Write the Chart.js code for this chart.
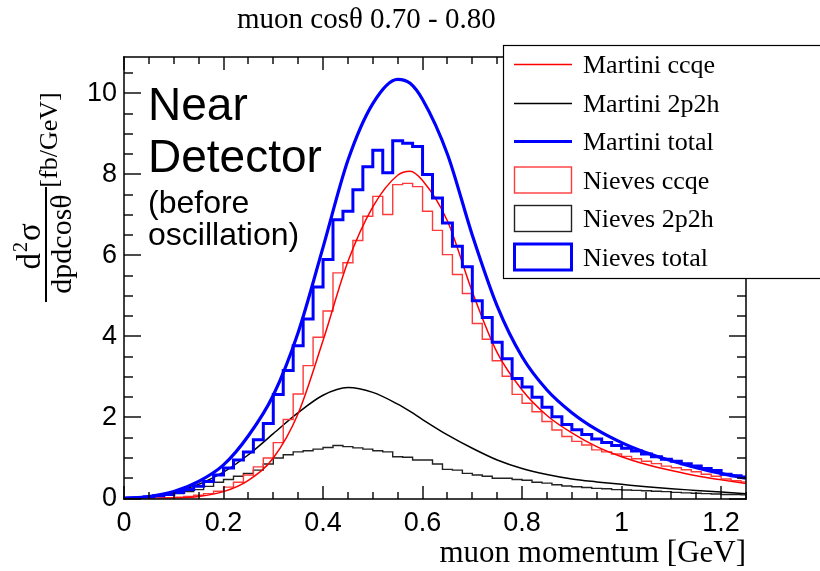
<!DOCTYPE html>
<html>
<head>
<meta charset="utf-8">
<title>muon cos theta 0.70 - 0.80</title>
<script src="https://cdn.jsdelivr.net/npm/chart.js@4.4.0/dist/chart.umd.min.js"></script>
<style>
    html, body { margin: 0; padding: 0; background: #fff; }
    #wrap { width: 820px; height: 571px; position: relative; }
</style>
</head>
<body>
<div id="wrap"><canvas id="xsecChart"></canvas></div>
<script>
// --- Data ---

// Nieves histograms: 0.02 GeV bins starting at 0 (last bin is cut by the axis at 1.25)
const binWidth = 0.02;
const nievesCcqe = [
    0, 0.005, 0.01, 0.015, 0.02, 0.03, 0.05, 0.08, 0.12, 0.18,
    0.28, 0.4, 0.58, 0.78, 1.0, 1.38, 1.95, 2.58, 3.28, 3.98,
    4.63, 5.57, 5.82, 6.37, 6.97, 7.46, 7.01, 7.75, 7.78, 7.7,
    7.09, 6.62, 6.02, 5.53, 5.06, 4.32, 3.93, 3.4, 3.02, 2.57,
    2.35, 2.14, 1.9, 1.69, 1.53, 1.41, 1.32, 1.2, 1.15, 1.1,
    1.04, 0.98, 0.92, 0.86, 0.8, 0.76, 0.71, 0.66, 0.6, 0.55,
    0.48, 0.44, 0.41
];
const nieves2p2h = [
    0.005, 0.015, 0.03, 0.05, 0.08, 0.12, 0.17, 0.22, 0.3, 0.4,
    0.47, 0.55, 0.62, 0.7, 0.85, 1.0, 1.08, 1.15, 1.18, 1.22,
    1.26, 1.31, 1.28, 1.25, 1.22, 1.18, 1.15, 1.03, 1.02, 0.95,
    0.95, 0.85, 0.72, 0.7, 0.62, 0.58, 0.55, 0.5, 0.5, 0.47,
    0.45, 0.4, 0.38, 0.34, 0.31, 0.29, 0.27, 0.25, 0.24, 0.22,
    0.21, 0.2, 0.19, 0.18, 0.17, 0.15, 0.14, 0.13, 0.12, 0.11,
    0.1, 0.1, 0.09
];
const nievesTotal = [
    0.01, 0.02, 0.04, 0.07, 0.1, 0.15, 0.22, 0.3, 0.42, 0.58,
    0.75, 0.95, 1.15, 1.45, 1.85, 2.57, 3.16, 3.77, 4.43, 5.22,
    5.9, 6.88, 7.09, 7.62, 8.19, 8.6, 8.04, 8.83, 8.77, 8.69,
    8.0, 7.42, 6.8, 6.23, 5.72, 4.88, 4.47, 3.86, 3.45, 2.96,
    2.75, 2.5, 2.25, 2.02, 1.83, 1.7, 1.58, 1.47, 1.38, 1.31,
    1.24, 1.17, 1.1, 1.03, 0.97, 0.92, 0.86, 0.8, 0.74, 0.69,
    0.6, 0.56, 0.53
];

// Martini smooth curves, sampled at these momenta (GeV)
const curveMomentum = [0, 0.05, 0.1, 0.15, 0.2, 0.25, 0.3, 0.35, 0.4, 0.45, 0.5, 0.55, 0.575,
    0.6, 0.65, 0.7, 0.75, 0.8, 0.85, 0.9, 0.95, 1.0, 1.05, 1.1, 1.15, 1.2, 1.25];
const martiniCcqe = [0, 0, 0.01, 0.05, 0.17, 0.45, 1.0, 2.1, 3.9, 5.85, 7.2, 7.98, 8.08,
    7.85, 6.85, 5.1, 3.6, 2.68, 2.05, 1.62, 1.28, 1.03, 0.84, 0.69, 0.56, 0.46, 0.37];
const martini2p2h = [0, 0.04, 0.15, 0.35, 0.65, 1.08, 1.6, 2.12, 2.55, 2.74, 2.62, 2.33, 2.15,
    1.95, 1.57, 1.24, 0.95, 0.74, 0.59, 0.48, 0.41, 0.35, 0.29, 0.24, 0.2, 0.16, 0.12];
const martiniTotal = [0, 0.05, 0.17, 0.42, 0.83, 1.55, 2.55, 4.1, 6.2, 8.35, 9.75, 10.35, 10.25,
    9.85, 8.5, 6.5, 4.75, 3.5, 2.68, 2.12, 1.7, 1.38, 1.13, 0.93, 0.76, 0.62, 0.5];

const xTickValues = [0, 0.2, 0.4, 0.6, 0.8, 1, 1.2];
const yTickValues = [0, 2, 4, 6, 8, 10];

const legendLabels = ['Martini ccqe', 'Martini 2p2h', 'Martini total',
    'Nieves ccqe', 'Nieves 2p2h', 'Nieves total'];

// --- Helpers ---

function curvePoints(values) {
    return curveMomentum.map((p, i) => ({ x: p, y: values[i] }));
}

// step outline: one point per low bin edge, plus the top edge of the last bin
function histPoints(values) {
    const pts = values.map((v, i) => ({ x: i * binWidth, y: v }));
    pts.push({ x: values.length * binWidth, y: values[values.length - 1] });
    return pts;
}

const SERIF = '"Liberation Serif", "Times New Roman", serif';
const SANS = '"Liberation Sans", Arial, sans-serif';

// ROOT style frame with ticks inside on all four sides, then legend and free text
const rootDecor = {
    id: 'rootDecor',
    afterDraw(chart) {
        const c = chart.ctx;
        const xs = chart.scales.x;
        const ys = chart.scales.y;
        // frame edges straight from the scales
        const L = Math.round(xs.getPixelForValue(xs.min));
        const R = Math.round(xs.getPixelForValue(xs.max));
        const T = Math.round(ys.getPixelForValue(ys.max));
        const B = Math.round(ys.getPixelForValue(ys.min));
        c.save();

        c.fillStyle = '#000';
        c.fillRect(L - 0.75, T - 0.75, R - L + 1.5, 1.5);
        c.fillRect(L - 0.75, B - 0.75, R - L + 1.5, 1.5);
        c.fillRect(L - 0.75, T - 0.75, 1.5, B - T + 1.5);
        c.fillRect(R - 0.75, T - 0.75, 1.5, B - T + 1.5);
        for (let i = 0; i <= 25; i++) {
            const px = Math.round(xs.getPixelForValue(i * 0.05));
            const len = (i % 4 === 0) ? 13 : 7;
            c.fillRect(px - 0.7, B - len, 1.4, len);
            c.fillRect(px - 0.7, T, 1.4, len);
        }
        for (let i = 0; i <= 21; i++) {
            const py = Math.round(ys.getPixelForValue(i * 0.5));
            const len = (i % 4 === 0) ? 17 : 9;
            c.fillRect(L, py - 0.7, len, 1.4);
            c.fillRect(R - len, py - 0.7, len, 1.4);
        }

        // legend
        c.fillStyle = '#fff';
        c.fillRect(503, 45, 330, 233);
        c.strokeStyle = '#000';
        c.lineWidth = 1.2;
        c.strokeRect(503.5, 45.5, 330, 233);
        const styles = chart.data.datasets.slice().sort((p, q) => p.legendIndex - q.legendIndex);
        styles.forEach((ds, i) => {
            const cy = 64 + i * 38.5;
            c.strokeStyle = ds.borderColor;
            c.lineWidth = ds.borderWidth;
            if (ds.stepped) {
                c.strokeRect(514.5, cy - 12.5, 57, 26);
            } else {
                c.beginPath();
                c.moveTo(514, Math.round(cy) + 0.5);
                c.lineTo(572, Math.round(cy) + 0.5);
                c.stroke();
            }
            c.fillStyle = '#000';
            c.font = '26px ' + SERIF;
            c.textAlign = 'left';
            c.textBaseline = 'alphabetic';
            c.fillText(legendLabels[i], 583, cy + 9);
        });

        c.fillStyle = '#000';
        c.textBaseline = 'alphabetic';

        // title
        c.font = '29px ' + SERIF;
        c.textAlign = 'left';
        c.fillText('muon cos\u03b8 0.70 - 0.80', 237, 28);

        // x axis title
        c.font = '31px ' + SERIF;
        c.textAlign = 'right';
        c.fillText('muon momentum [GeV]', 746, 562);

        // y axis title: fraction plus units, rotated
        c.textAlign = 'center';
        c.save();
        c.translate(57, 140);
        c.rotate(-Math.PI / 2);
        c.font = '26px ' + SERIF;
        c.fillText('[fb/GeV]', 0, 0);
        c.restore();

        c.save();
        c.translate(40, 244);
        c.rotate(-Math.PI / 2);
        c.font = '33px ' + SERIF;
        c.textAlign = 'right';
        c.fillText('d', -9, 0);
        c.textAlign = 'left';
        c.fillText('\u03c3', 3, 0);
        c.font = '20px ' + SERIF;
        c.textAlign = 'center';
        c.fillText('2', -3, -13);
        c.restore();

        c.save();
        c.translate(71, 244);
        c.rotate(-Math.PI / 2);
        c.font = '30px ' + SERIF;
        c.fillText('dpdcos\u03b8', 0, 0);
        c.restore();

        c.fillRect(45, 187, 2, 115);

        // detector note
        c.textAlign = 'left';
        c.font = '46px ' + SANS;
        c.fillText('Near', 148, 120);
        c.fillText('Detector', 148, 172);
        c.font = '32px ' + SANS;
        c.fillText('(before', 148, 213);
        c.fillText('oscillation)', 148, 245);

        c.restore();
    }
};

// --- Chart ---

const ctx = document.getElementById('xsecChart').getContext('2d');

const xsecChart = new Chart(ctx, {
    type: 'line',
    data: {
        datasets: [
            { label: 'Martini total', legendIndex: 2, data: curvePoints(martiniTotal),
              borderColor: '#0000ff', borderWidth: 3.2, cubicInterpolationMode: 'monotone', order: 1 },
            { label: 'Martini ccqe', legendIndex: 0, data: curvePoints(martiniCcqe),
              borderColor: '#ff0000', borderWidth: 1.5, cubicInterpolationMode: 'monotone', order: 3 },
            { label: 'Martini 2p2h', legendIndex: 1, data: curvePoints(martini2p2h),
              borderColor: '#000000', borderWidth: 1.5, cubicInterpolationMode: 'monotone', order: 5 },
            { label: 'Nieves total', legendIndex: 5, data: histPoints(nievesTotal),
              borderColor: '#0000ff', borderWidth: 3, stepped: true, order: 2 },
            { label: 'Nieves ccqe', legendIndex: 3, data: histPoints(nievesCcqe),
              borderColor: '#ff3a3a', borderWidth: 1.4, stepped: true, order: 4 },
            { label: 'Nieves 2p2h', legendIndex: 4, data: histPoints(nieves2p2h),
              borderColor: '#222222', borderWidth: 1.4, stepped: true, order: 6 }
        ]
    },
    options: {
        responsive: true,
        maintainAspectRatio: false,
        animation: false,
        devicePixelRatio: 1,
        parsing: false,
        layout: { padding: { left: 0, top: 57, right: 74, bottom: 0 } },
        elements: { point: { radius: 0 }, line: { fill: false } },
        plugins: { legend: { display: false }, tooltip: { enabled: false }, title: { display: false } },
        scales: {
            x: {
                type: 'linear', min: 0, max: 1.25,
                grid: { display: false, drawTicks: false },
                border: { display: false },
                afterFit: s => { s.height = 72.5; },
                afterBuildTicks: s => { s.ticks = xTickValues.map(v => ({ value: v })); },
                ticks: { color: '#000', padding: 9, maxRotation: 0, autoSkip: false,
                         font: { family: SANS, size: 27 }, callback: v => String(v) }
            },
            y: {
                type: 'linear', min: 0, max: 10.9,
                grid: { display: false, drawTicks: false },
                border: { display: false },
                afterFit: s => { s.width = 124; },
                afterBuildTicks: s => { s.ticks = yTickValues.map(v => ({ value: v })); },
                ticks: { color: '#000', padding: 7, autoSkip: false,
                         font: { family: SANS, size: 27 }, callback: v => String(v) }
            }
        }
    },
    plugins: [rootDecor]
});
</script>
</body>
</html>
